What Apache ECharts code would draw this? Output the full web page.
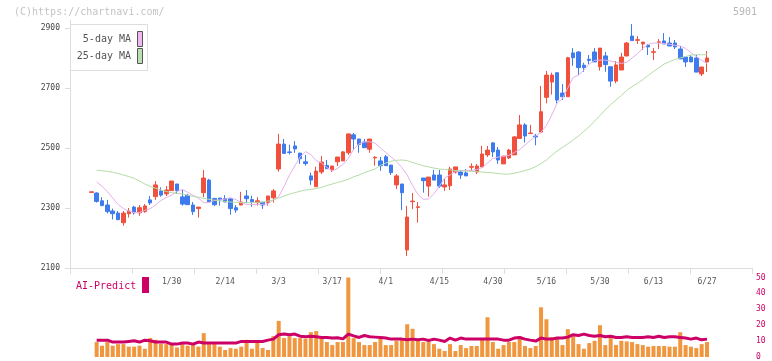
<!DOCTYPE html>
<html><head><meta charset="utf-8">
<script src="https://cdn.jsdelivr.net/npm/echarts@6/dist/echarts.min.js"></script>
<style>html,body{margin:0;padding:0;background:#fff}#c{width:772px;height:361px}</style>
</head><body><div id="c"></div>
<script>
// [open, close, low, high] per trading day
const candles = [
[2352,2354,2351,2355],[2350,2322,2318,2352],[2324,2308,2306,2336],[2310,2288,2282,2327],[2290,2281,2262,2298],
[2283,2261,2261,2290],[2251,2283,2241,2290],[2281,2290,2268,2300],[2303,2284,2278,2307],[2284,2301,2274,2310],
[2288,2307,2284,2313],[2327,2317,2310,2340],[2338,2377,2327,2390],[2357,2343,2338,2369],[2347,2360,2340,2373],
[2358,2390,2358,2390],[2380,2358,2347,2380],[2337,2313,2308,2360],[2342,2311,2311,2347],[2310,2288,2277,2320],
[2298,2303,2268,2303],[2351,2400,2336,2427],[2393,2321,2321,2397],[2332,2311,2307,2332],[2333,2327,2308,2333],
[2331,2320,2320,2343],[2331,2298,2278,2331],[2301,2293,2284,2310],[2310,2320,2310,2354],[2340,2331,2316,2360],
[2328,2321,2304,2341],[2318,2324,2308,2336],[2319,2310,2297,2319],[2318,2340,2308,2340],[2334,2357,2318,2363],
[2430,2513,2421,2547],[2513,2482,2482,2530],[2487,2485,2478,2511],[2507,2497,2484,2523],[2483,2464,2447,2483],
[2454,2448,2441,2477],[2407,2393,2377,2418],[2371,2423,2371,2438],[2420,2453,2413,2473],[2442,2431,2431,2460],
[2427,2440,2420,2440],[2454,2470,2440,2470],[2457,2487,2457,2490],[2484,2547,2477,2547],[2544,2530,2493,2550],
[2530,2512,2484,2530],[2520,2501,2501,2530],[2496,2530,2484,2530],[2467,2469,2441,2473],[2457,2441,2424,2470],
[2471,2441,2441,2477],[2443,2418,2410,2443],[2377,2407,2363,2413],[2380,2351,2293,2380],[2160,2270,2140,2307],
[2321,2323,2296,2350],[2302,2304,2251,2320],[2400,2391,2351,2400],[2373,2403,2338,2403],[2410,2393,2393,2427],
[2410,2373,2367,2427],[2370,2377,2357,2397],[2374,2430,2360,2437],[2420,2437,2415,2437],[2420,2410,2397,2427],
[2417,2407,2407,2430],[2436,2438,2423,2449],[2420,2440,2413,2447],[2437,2480,2437,2507],[2477,2493,2470,2507],
[2517,2487,2470,2520],[2493,2460,2447,2503],[2447,2473,2447,2473],[2467,2493,2463,2497],[2477,2537,2477,2540],
[2532,2577,2532,2610],[2577,2540,2518,2583],[2548,2550,2547,2577],[2540,2537,2509,2547],[2553,2621,2549,2707],
[2669,2743,2649,2757],[2720,2743,2678,2751],[2751,2660,2649,2751],[2683,2671,2660,2713],[2671,2801,2671,2804],
[2817,2801,2774,2833],[2820,2768,2744,2823],[2776,2768,2754,2784],[2796,2792,2779,2810],[2820,2787,2787,2833],
[2771,2833,2758,2833],[2807,2778,2754,2820],[2771,2723,2704,2771],[2723,2777,2716,2790],[2760,2803,2760,2817],
[2807,2850,2805,2853],[2873,2858,2858,2913],[2859,2861,2847,2873],[2847,2853,2827,2853],[2843,2837,2810,2847],
[2819,2821,2793,2833],[2852,2854,2830,2863],[2857,2847,2847,2883],[2850,2840,2840,2870],[2850,2837,2830,2860],
[2830,2797,2797,2840],[2803,2787,2770,2803],[2803,2787,2787,2810],[2800,2753,2753,2810],[2747,2770,2740,2770],
[2787,2800,2753,2823]
];
const ma5 = [null,
2387,2372,2355,2333,2312,2298,2290,2285,2285,2292,2298,2310,2325,2335,2343,2355,2362,2352,2342,2333,
2318,2318,2325,2327,2330,2334,2328,2318,2312,2312,2312,2312,2314,2327,2338,2372,2410,2440,2470,2488,
2478,2458,2450,2435,2424,2432,2445,2465,2496,2514,2520,2521,2516,2500,2485,2470,2455,2435,2410,2375,
2345,2329,2330,2348,2372,2400,2410,2422,2425,2425,2425,2428,2435,2450,2465,2470,2472,2476,2485,2495,
2510,2525,2540,2553,2575,2610,2650,2665,2700,2735,2743,2760,2780,2792,2793,2793,2790,2786,2782,2786,
2800,2814,2832,2845,2850,2850,2848,2846,2842,2840,2832,2818,2805,2792,2782];
const ma25 = [null,
2426,2424,2422,2419,2415,2410,2405,2399,2390,2380,2372,2366,2360,2355,2351,2349,2347,2343,2339,2336,
2332,2329,2326,2324,2322,2320,2319,2318,2318,2318,2319,2320,2323,2327,2333,2340,2346,2351,2356,2360,
2362,2365,2369,2375,2380,2385,2390,2396,2404,2410,2418,2424,2430,2442,2450,2456,2459,2460,2458,2452,
2446,2441,2437,2433,2430,2428,2427,2425,2424,2423,2422,2421,2420,2418,2417,2415,2413,2413,2416,2420,
2425,2430,2438,2448,2460,2476,2490,2502,2514,2527,2540,2556,2571,2590,2608,2627,2645,2660,2675,2692,
2705,2715,2728,2742,2755,2767,2780,2788,2795,2800,2805,2810,2811,2811,2811];
const aiVolume = [null,
9.4,7.1,9.4,7.1,8.1,8.1,6.5,6.5,7.1,5.2, 11.9,10.8,8.3,8.1,8.1,6.0,8.1,7.1,8.1,6.5,
15.0,8.1,8.1,6.5,4.4,5.6,5.2,6.5,10.8,5.2, 8.8,5.6,4.4,13.1,22.7,11.9,13.1,11.9,11.9,11.5,
15.6,16.3,11.9,9.4,7.5,9.4,9.4,50,11.9,9.4, 7.5,7.5,9.4,11.9,7.5,7.5,10.2,11.9,20.6,17.7,
10.2,9.4,9.4,8.1,5.2,3.75,8.1,3.75,7.5,5.6, 6.9,6.9,11.9,25.0,9.4,5.2,7.5,9.4,9.4,13.1,
6.9,5.6,6.9,31.25,23.75,12.5,11.9,7.5,17.5,13.1, 8.1,5.2,8.75,10.2,20.0,7.5,11.9,7.5,10.2,9.8,
9.4,8.1,7.5,6.5,6.9,6.9,6.9,6.5,6.5,15.6, 7.5,6.5,5.6,8.1,9.4];
const aiPredict = [null,
10.6,10.6,10.6,9.4,9.4,9.4,9.8,10.2,9.4,10.6, 10.2,9.4,9.4,9.4,8.1,8.1,8.75,8.75,8.1,9.4,
8.75,8.75,8.75,8.75,8.75,8.75,8.75,9.8,9.8,9.8, 9.8,9.8,10.6,11.25,14.0,14.4,14.0,14.4,13.1,12.7,
13.1,12.7,12.3,12.3,11.9,12.1,11.4,14.4,13.3,12.3, 13.5,12.7,12.5,12.3,11.9,11.25,11.25,11.25,10.8,11.25,
10.8,11.25,10.4,11.25,10.6,9.8,11.9,10.6,11.9,11.25, 11.25,11.25,11.25,11.25,11.25,11.25,10.6,10.6,11.9,12.3,
11.25,10.6,10.0,11.9,11.25,11.25,11.9,11.9,12.5,14.0, 13.5,14.4,13.5,13.1,13.5,12.7,13.1,12.3,12.3,12.7,
12.3,12.3,12.3,12.7,12.3,13.1,12.3,12.7,12.7,12.3, 11.9,11.25,11.9,10.8,11.25];
const dateLabels = ['1/30','2/14','3/3','3/17','4/1','4/15','4/30','5/16','5/30','6/13','6/27'];
const dateLabelIdx = [15,25,35,45,55,65,75,85,95,105,115];
const priceTicks = [2100,2300,2500,2700,2900];

const mono = "'DejaVu Sans Mono', monospace";
const xMin = -3.98, xMax = 123.4;
const pairs = arr => arr.map((v,i)=> v==null ? null : [i, v]).filter(d=>d);
const UP = '#f0503c', DOWN = '#3d7bef';

const chart = echarts.init(document.getElementById('c'));
chart.setOption({
  animation:false,
  backgroundColor:'#ffffff',
  grid:[{left:70,right:20,top:20,bottom:93},{left:70,right:20,top:277.5,height:80.5}],
  xAxis:[
    {type:'value',gridIndex:0,min:xMin,max:xMax,position:'bottom',
     axisLine:{show:true,onZero:false,lineStyle:{color:'#dddddd',width:1}},
     axisTick:{show:false},splitLine:{show:false},
     axisLabel:{customValues:dateLabelIdx,formatter:v=>{const k=dateLabelIdx.indexOf(v);return k<0?'':dateLabels[k];},
       color:'#555555',fontFamily:mono,fontSize:8,margin:10,showMinLabel:true,showMaxLabel:true}},
    {type:'value',gridIndex:0,min:0,max:11,interval:1,position:'bottom',
     axisLine:{show:false,onZero:false},axisTick:{show:true,length:6,lineStyle:{color:'#dddddd'}},
     axisLabel:{show:false},splitLine:{show:false}},
    {type:'value',gridIndex:1,min:xMin,max:xMax,show:false}
  ],
  yAxis:[
    {type:'value',gridIndex:0,min:2100,max:2926.7,
     axisLine:{show:true,onZero:false,lineStyle:{color:'#dddddd'}},
     axisTick:{show:true,length:5,customValues:priceTicks,lineStyle:{color:'#dddddd'}},
     axisLabel:{customValues:priceTicks,formatter:v=>String(v),color:'#444444',fontFamily:mono,fontSize:8,margin:10},
     splitLine:{show:false}},
    {type:'value',gridIndex:1,position:'right',min:0,max:50,interval:10,
     axisLine:{show:false},axisTick:{show:false},splitLine:{show:false},
     axisLabel:{formatter:v=>String(v),color:'#cc0066',fontFamily:mono,fontSize:8,margin:4}}
  ],
  series:[
    {type:'candlestick',xAxisIndex:0,yAxisIndex:0,barWidth:4,
     data:candles.map((c,i)=>[i,c[0],c[1],c[2],c[3]]),encode:{x:0,y:[1,2,3,4]},
     itemStyle:{color:UP,color0:DOWN,borderColor:UP,borderColor0:DOWN,borderWidth:1},z:3},
    {type:'line',xAxisIndex:0,yAxisIndex:0,data:pairs(ma5),showSymbol:false,
     lineStyle:{color:'#e6b0ea',width:1},z:4},
    {type:'line',xAxisIndex:0,yAxisIndex:0,data:pairs(ma25),showSymbol:false,
     lineStyle:{color:'#b5dca8',width:1},z:4},
    {type:'bar',xAxisIndex:2,yAxisIndex:1,data:pairs(aiVolume),barWidth:4,
     itemStyle:{color:'#f0963e'},z:2},
    {type:'line',xAxisIndex:2,yAxisIndex:1,data:pairs(aiPredict),showSymbol:false,
     lineStyle:{color:'#cc0066',width:3},z:3}
  ],
  graphic:[
    {type:'text',x:14,y:12,style:{text:'(C)https://chartnavi.com/',font:"10px 'DejaVu Sans Mono'",fill:'#c4c4c4',align:'left',verticalAlign:'middle'}},
    {type:'text',x:757,y:12,style:{text:'5901',font:"10px 'DejaVu Sans Mono'",fill:'#b8b8b8',align:'right',verticalAlign:'middle'}},
    {type:'rect',x:70.5,y:24.5,shape:{width:77,height:46},style:{fill:'#ffffff',stroke:'#dddddd',lineWidth:1},z:10},
    {type:'text',x:131,y:39.5,style:{text:'5-day MA',font:"10px 'DejaVu Sans Mono'",fill:'#555555',align:'right',verticalAlign:'middle'},z:11},
    {type:'text',x:131,y:56,style:{text:'25-day MA',font:"10px 'DejaVu Sans Mono'",fill:'#555555',align:'right',verticalAlign:'middle'},z:11},
    {type:'rect',x:137.5,y:31.5,shape:{width:5,height:15},style:{fill:'#f0b8f0',stroke:'#555555',lineWidth:1},z:11},
    {type:'rect',x:137.5,y:48.5,shape:{width:5,height:15},style:{fill:'#b8e0b0',stroke:'#555555',lineWidth:1},z:11},
    {type:'text',x:76,y:286,style:{text:'AI-Predict',font:"10px 'DejaVu Sans Mono'",fill:'#cc0066',align:'left',verticalAlign:'middle'}},
    {type:'rect',x:142,y:277,shape:{width:7,height:16},style:{fill:'#cc0066'}}
  ]
});
</script></body></html>
